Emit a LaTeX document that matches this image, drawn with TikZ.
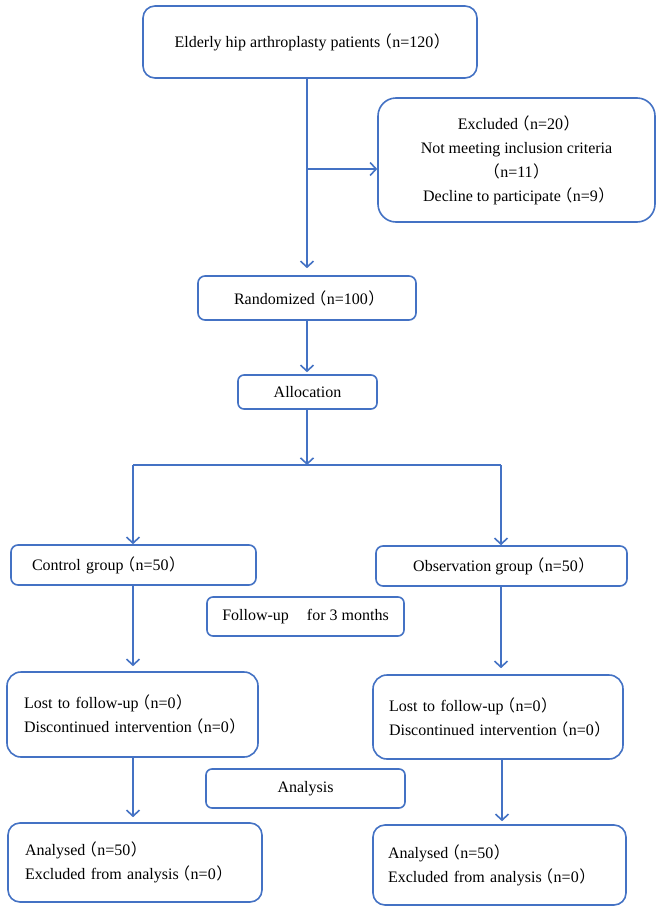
\documentclass[tikz,border=0pt]{standalone}
\usepackage{fontspec}
\setmainfont{Liberation Serif}
\newfontfamily\cjk{Noto Sans CJK SC}
\usetikzlibrary{arrows.meta}
\newcommand{\LP}{\kern-4.5pt{\cjk （}\kern0.5pt}
\newcommand{\RP}{\kern0.5pt{\cjk ）}\kern-4.5pt}
\definecolor{bl}{HTML}{4472C4}
\begin{document}
\begin{tikzpicture}[x=1pt,y=-1pt,
  box/.style={draw=bl, line width=1.6pt, fill=white, inner sep=0pt,
    font=\fontsize{16}{24}\selectfont, align=center,
    execute at begin node={\hyphenpenalty=10000\exhyphenpenalty=10000}},
  lbox/.style={box, align=left},
  arr/.style={draw=bl, line width=1.6pt, -{Straight Barb[length=6pt,width=13pt,line width=1.6pt]}},
  ln/.style={draw=bl, line width=1.6pt}]
\useasboundingbox[fill=white] (0,0) rectangle (661,908);

\node[box, minimum width=334pt, minimum height=72pt, rounded corners=12pt] (top) at (310,42)
  {Elderly hip arthroplasty patients\LP n=120\RP};
\node[box, minimum width=277pt, minimum height=124pt, rounded corners=18pt] (excl) at (516.5,160)
  {Excluded\LP n=20\RP\\Not meeting inclusion criteria\\\LP n=11\RP\\Decline to participate\LP n=9\RP};
\node[box, minimum width=218pt, minimum height=44pt, rounded corners=7pt] (rand) at (307,298)
  {Randomized\LP n=100\RP};
\node[box, minimum width=139pt, minimum height=34pt, rounded corners=6pt] (alloc) at (307.5,392)
  {Allocation};
\node[lbox, text width=203pt, inner xsep=21pt, minimum height=40pt, rounded corners=7pt] (ctrl) at (133.5,565)
  {\mbox{Control group\LP n=50\RP}};
\node[box, minimum width=251pt, minimum height=40pt, rounded corners=7pt] (obs) at (501.5,566)
  {Observation group\LP n=50\RP};
\node[box, minimum width=197pt, minimum height=39pt, rounded corners=6pt] (fol) at (305.5,616.5)
  {Follow-up\hspace{18pt}for 3 months};
\node[lbox, text width=217pt, inner xsep=17pt, minimum height=85pt, rounded corners=14pt] (lostL) at (132.5,714.5)
  {\mbox{Lost to follow-up\LP n=0\RP}\\\mbox{Discontinued intervention\LP n=0\RP}};
\node[lbox, text width=218pt, inner xsep=16pt, minimum height=84pt, rounded corners=14pt] (lostR) at (498,717)
  {\mbox{Lost to follow-up\LP n=0\RP}\\\mbox{Discontinued intervention\LP n=0\RP}};
\node[box, minimum width=199pt, minimum height=39pt, rounded corners=6pt] (ana) at (305.5,788.5)
  {Analysis};
\node[lbox, text width=220pt, inner xsep=17pt, minimum height=79pt, rounded corners=12pt] (anaL) at (135,862.5)
  {\mbox{Analysed\LP n=50\RP}\\\mbox{Excluded from analysis\LP n=0\RP}};
\node[lbox, text width=223pt, inner xsep=15pt, minimum height=80pt, rounded corners=12pt] (anaR) at (499.5,865)
  {\mbox{Analysed\LP n=50\RP}\\\mbox{Excluded from analysis\LP n=0\RP}};

\coordinate (br) at (307,169);
\coordinate (split) at (307,465);
\coordinate (sl) at (133,465);
\coordinate (sr) at (501,465);
\coordinate (rr) at (502,465);

\draw[arr, shorten >=7pt] (rand.north |- top.south) -- (rand.north);
\draw[arr] (br) -- (br -| excl.west);
\draw[arr, shorten >=2pt] (rand.south) -- (rand.south |- alloc.north);
\draw[arr] (split |- alloc.south) -- (split);
\draw[ln] (sl) -- (sr);
\draw[arr] (sl) -- (sl |- ctrl.north);
\draw[arr] (sr) -- (sr |- obs.north);
\draw[arr, shorten >=5pt] (sl |- ctrl.south) -- (sl |- lostL.north);
\draw[arr, shorten >=6pt] (sr |- obs.south) -- (sr |- lostR.north);
\draw[arr, shorten >=5pt] (sl |- lostL.south) -- (sl |- anaL.north);
\draw[arr, shorten >=3pt] (rr |- lostR.south) -- (rr |- anaR.north);
\end{tikzpicture}
\end{document}
